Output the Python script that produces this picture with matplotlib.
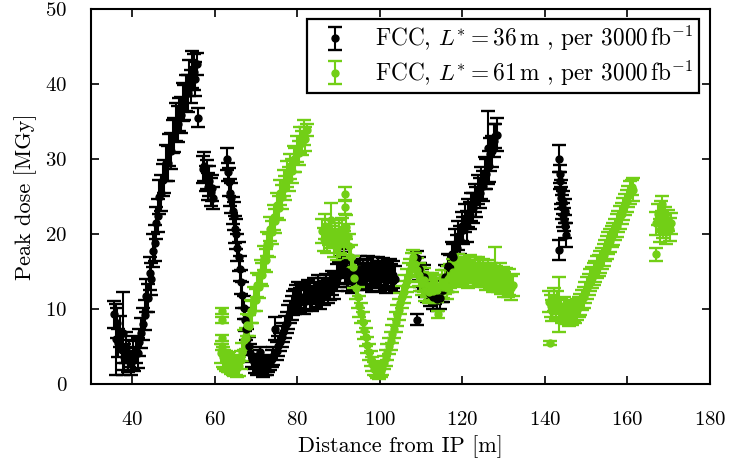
import matplotlib
matplotlib.use("Agg")
import matplotlib.pyplot as plt

plt.rcParams['font.family'] = 'serif'
plt.rcParams['font.serif'] = ['cmr10']
plt.rcParams['mathtext.fontset'] = 'cm'
plt.rcParams['axes.formatter.use_mathtext'] = True

# FCC, L* = 36 m
black_x = [35.6, 36.0, 36.3, 36.6, 37.0, 37.4, 37.8, 38.1, 38.5, 38.9, 39.3, 39.7, 40.1, 40.5, 40.9, 41.3, 41.7, 42.1, 42.5,
           43.0, 43.4, 43.8, 44.2, 44.6, 45.0, 45.4, 45.8, 46.2, 46.6, 47.0, 47.4, 47.8, 48.2, 48.6, 49.0, 49.4, 49.8,
           50.2, 50.6, 51.0, 51.4, 51.8, 52.2, 52.6, 53.0, 53.4, 53.8, 54.2, 54.6, 55.0, 55.3, 55.6,
           56.0, 57.2, 57.5, 57.8, 58.1, 58.4, 58.7, 59.0, 59.3, 59.6,
           63.0, 63.1, 63.4, 63.7, 64.0, 64.3, 64.6, 64.9, 65.2, 65.5, 65.8, 66.1, 66.4, 66.7, 67.0, 67.3, 67.6, 67.9,
           68.2, 68.6, 69.0, 69.4, 69.8, 70.2, 70.6, 71.0, 71.4, 71.8, 72.2, 72.6, 73.0, 73.4, 73.8, 74.2, 74.6,
           75.0, 75.4, 75.8, 76.2, 76.6, 77.0, 77.4, 77.8, 78.2, 78.6, 79.0, 79.4, 79.8, 80.2, 80.6, 81.0, 81.5,
           82.0, 82.5, 83.0, 83.5, 84.0, 84.5, 85.0, 85.5, 86.0, 86.5, 87.0, 87.5, 88.0, 88.5, 89.0, 89.5,
           90.0, 90.4, 90.8, 91.2, 91.6, 92.0, 92.4, 92.8, 93.2, 93.6, 94.0, 94.4, 94.8, 95.2, 95.6, 96.0, 96.4, 96.8,
           97.2, 97.6, 98.0, 98.4, 98.8, 99.2, 99.6, 100.0, 100.4, 100.8, 101.2, 101.6, 102.0, 102.4, 102.8, 103.2, 103.6,
           108.9, 108.9, 109.4, 109.8, 110.2, 110.6, 111.0, 111.4, 111.8, 112.2, 112.6, 113.0, 113.4, 113.8,
           114.6, 115.0, 115.4, 115.8, 116.2, 116.6, 117.0, 117.4, 117.8, 118.2, 118.6, 119.0, 119.4, 119.8, 120.2,
           120.6, 121.0, 121.4, 121.8, 122.2, 122.6, 123.0, 123.4, 123.8, 124.2, 124.6, 125.0, 125.4, 125.8, 126.2,
           126.4, 126.8, 127.2, 127.6, 128.0, 128.4,
           143.5, 143.6, 143.7, 143.5, 143.9, 144.0, 144.2, 144.3, 144.5, 144.6, 144.8, 144.9, 145.0]
black_y = [9.3, 6.0, 8.2, 5.5, 7.0, 4.6, 6.8, 3.6, 4.9, 3.2, 4.1, 2.8, 3.8, 3.4, 4.6, 4.2, 5.6, 6.8, 8.0,
           9.2, 11.8, 11.5, 14.8, 14.0, 17.8, 18.8, 21.5, 22.4, 24.9, 25.4, 27.2, 27.6, 29.5, 29.4, 31.2, 31.0, 33.0,
           33.2, 34.9, 34.6, 35.9, 35.8, 37.6, 37.5, 38.8, 38.7, 40.8, 39.6, 41.9, 41.6, 40.6, 42.6,
           35.5, 28.6, 29.0, 27.4, 27.9, 26.3, 27.0, 25.6, 26.1, 24.8,
           30.0, 28.3, 26.9, 25.5, 24.8, 23.1, 22.4, 20.6, 20.0, 18.2, 17.0, 15.4, 13.6, 11.9, 10.2, 8.6, 7.3, 6.0,
           5.1, 4.2, 3.4, 3.0, 2.5, 2.2, 2.8, 4.3, 2.4, 1.9, 2.3, 2.1, 2.7, 2.9, 3.4, 3.8, 7.4,
           4.4, 5.1, 5.6, 6.3, 6.9, 7.6, 8.2, 9.0, 9.6, 10.1, 10.8, 11.0, 11.6, 11.9, 11.2, 11.6, 10.9,
           11.4, 12.3, 11.8, 11.3, 12.5, 11.9, 12.8, 11.6, 12.4, 12.1, 13.0, 12.4, 12.9, 13.5, 13.1, 14.2,
           14.6, 15.3, 15.9, 16.2, 15.1, 14.6, 14.1, 14.9, 13.8, 14.5, 15.0, 14.2, 14.8, 15.3, 14.4, 15.0, 14.3, 14.9,
           15.4, 14.6, 14.0, 15.1, 14.5, 14.8, 15.3, 14.2, 14.7, 15.2, 14.4, 13.9, 14.8, 15.1, 14.3, 14.6, 14.0,
           16.8, 8.6, 15.4, 14.6, 13.9, 14.3, 13.1, 12.6, 13.2, 12.0, 12.5, 11.6, 12.2, 11.3,
           11.5, 12.6, 12.5, 14.3, 14.0, 15.8, 15.5, 17.3, 16.9, 18.7, 18.1, 19.8, 19.2, 21.0, 20.5,
           22.1, 21.0, 22.8, 22.5, 23.6, 23.5, 24.8, 24.2, 25.9, 25.4, 26.8, 26.4, 28.1, 28.0, 31.5,
           29.0, 30.6, 31.0, 32.4, 33.0, 33.2,
           30.0, 28.0, 27.1, 17.9, 25.6, 24.8, 23.6, 24.2, 22.5, 21.9, 23.0, 21.0, 19.9]
black_err = [1.8, 4.7, 2.0, 1.9, 2.1, 1.8, 5.5, 1.7, 2.0, 1.6, 1.8, 1.5, 1.9, 1.6, 1.8, 2.0, 1.8, 2.0, 2.1,
             2.0, 2.2, 1.9, 2.2, 2.1, 2.2, 2.4, 2.1, 2.2, 2.3, 2.4, 2.1, 2.2, 2.4, 2.3, 2.1, 2.4, 2.2,
             2.3, 2.5, 2.4, 2.2, 2.4, 2.5, 2.3, 2.4, 2.5, 2.4, 2.2, 2.5, 2.4, 2.3, 1.5,
             1.2, 1.8, 1.9, 1.7, 1.9, 1.8, 2.0, 1.9, 1.7, 1.5,
             1.5, 1.2, 1.9, 1.8, 2.0, 1.8, 1.9, 1.8, 2.0, 1.8, 1.9, 1.7, 1.6, 1.7, 1.5, 1.5, 1.4, 1.4,
             1.2, 1.2, 1.1, 1.0, 1.0, 0.9, 1.0, 0.6, 1.0, 0.9, 1.0, 0.9, 1.0, 1.0, 1.1, 1.2, 1.5,
             1.2, 1.3, 1.2, 1.4, 1.3, 1.5, 1.4, 1.6, 1.5, 1.6, 1.6, 1.7, 1.6, 1.7, 1.6, 1.7, 1.6,
             1.7, 1.6, 1.8, 1.6, 1.7, 1.6, 1.7, 1.6, 1.7, 1.6, 1.7, 1.6, 1.7, 1.6, 1.7, 1.8,
             1.7, 1.8, 1.7, 1.8, 1.7, 1.6, 1.7, 1.6, 1.7, 1.8, 1.7, 1.6, 1.7, 1.8, 1.7, 1.6, 1.7, 1.8,
             1.7, 1.6, 1.7, 1.8, 1.7, 1.6, 1.7, 1.8, 1.7, 1.6, 1.7, 1.8, 1.7, 1.6, 1.7, 1.8, 1.7,
             1.0, 0.7, 1.5, 1.6, 1.5, 1.6, 1.5, 1.6, 1.5, 1.6, 1.5, 1.6, 1.5, 1.6,
             1.5, 1.6, 1.5, 1.6, 1.7, 1.6, 1.7, 1.6, 1.8, 1.9, 1.8, 1.9, 1.8, 1.9, 1.8,
             1.9, 2.0, 1.9, 1.8, 1.9, 2.0, 1.9, 2.0, 1.9, 2.0, 2.1, 2.0, 2.1, 2.0, 4.8,
             2.1, 2.2, 2.1, 2.2, 1.6, 2.2,
             1.8, 1.2, 1.1, 1.3, 1.6, 1.5, 1.6, 1.5, 1.6, 1.5, 1.6, 1.5, 1.6]

# FCC, L* = 61 m
green_x = [61.7, 61.7, 61.7, 61.7,
           61.5, 61.9, 62.3, 62.7, 63.1, 63.5, 63.9, 64.3, 64.7, 65.1, 65.5, 65.9, 66.3,
           66.7, 67.1, 67.5, 67.9, 68.3, 68.7, 69.1, 69.5, 69.9, 70.3, 70.7, 71.1, 71.5, 71.9, 72.3, 72.7, 73.1, 73.5,
           73.9, 74.3, 74.7, 75.1, 75.5, 75.9, 76.3, 76.7, 77.1, 77.5, 77.9, 78.3, 78.7, 79.1, 79.5, 79.9, 80.3, 80.7,
           81.1, 81.5, 81.9, 82.3,
           86.0, 86.4, 86.8, 87.2, 87.6, 88.1, 88.4, 88.8, 89.2, 89.6, 90.0, 90.4, 90.8, 91.2, 91.5, 91.5, 91.8, 92.2,
           92.6, 93.0, 93.4, 93.8, 94.2, 94.6, 95.0, 95.4, 95.8, 96.2, 96.6, 97.0, 97.4, 97.8, 98.2, 98.6, 99.0, 99.4,
           99.8, 100.2, 100.6, 101.0, 101.4, 101.8, 102.2, 102.6, 103.0, 103.4, 103.8, 104.2, 104.6, 105.0, 105.4,
           105.8, 106.2, 106.6, 107.0, 107.4, 107.8, 108.1,
           108.6, 109.0, 109.4, 109.8, 110.2, 110.6, 111.0, 111.4, 111.8, 112.2, 112.6, 113.0, 113.4, 113.8, 114.2,
           114.6, 115.0,
           115.4, 115.8, 116.2, 116.6, 117.0, 117.4, 117.8, 118.2, 118.6, 119.0, 119.4, 119.8, 120.2, 120.6, 121.0,
           121.4, 121.8, 122.2, 122.6, 123.0, 123.4, 123.8, 124.2, 124.6, 125.0, 125.4, 125.8, 126.2, 126.6, 127.0,
           127.4, 127.8, 128.2, 128.6, 129.0, 129.4, 129.8, 130.2, 130.6, 131.0, 131.4, 131.8, 132.2,
           141.2, 141.0, 141.4, 141.8, 142.2, 142.6, 143.0, 143.4, 143.8, 144.2, 144.6, 145.0, 145.4, 145.8, 146.2,
           146.6, 147.0, 147.4, 147.8, 148.2, 148.6, 149.0, 149.4, 149.8, 150.2, 150.6, 151.0, 151.4, 151.8, 152.2,
           152.6, 153.0, 153.4, 153.8, 154.2, 154.6, 155.0, 155.4, 155.8, 156.2, 156.6, 157.0, 157.4, 157.8, 158.2,
           158.6, 159.0, 159.4, 159.8, 160.2, 160.6, 161.0, 161.4,
           167.0, 167.0, 167.4, 167.8, 168.2, 168.3, 168.6, 169.0, 169.4, 169.8, 170.2, 170.6]
green_y = [9.7, 8.5, 6.2, 5.0,
           4.1, 3.6, 3.3, 3.1, 2.8, 3.0, 2.6, 2.5, 2.3, 2.6, 2.2, 2.4, 3.2,
           4.3, 5.9, 6.1, 7.9, 7.8, 9.7, 9.6, 11.4, 11.2, 13.2, 13.0, 15.0, 14.6, 16.8, 16.5, 18.7, 18.5, 20.7,
           20.2, 22.2, 21.7, 23.8, 23.4, 25.5, 24.9, 26.8, 26.1, 28.0, 27.3, 29.0, 28.4, 30.0, 29.8, 31.3, 30.8, 32.5,
           32.1, 33.5, 32.6, 33.8,
           20.4, 19.3, 21.0, 19.0, 20.2, 21.8, 19.6, 18.6, 19.9, 18.2, 20.4, 19.1, 20.6, 18.8, 25.3, 23.6, 20.9, 19.8,
           18.4, 17.0, 15.6, 14.2, 12.8, 11.6, 10.4, 9.5, 8.3, 7.2, 6.3, 5.2, 4.3, 3.4, 2.7, 2.1, 1.9, 1.6,
           1.5, 1.8, 2.2, 2.9, 3.5, 4.3, 5.1, 5.8, 6.7, 7.4, 8.3, 9.2, 9.9, 10.8, 11.6,
           12.3, 13.1, 13.8, 14.6, 15.2, 15.9, 16.9,
           16.0, 15.2, 14.6, 14.0, 13.4, 13.9, 12.6, 13.2, 12.3, 12.8, 13.3, 12.4, 13.0, 12.6, 9.3,
           13.1, 13.6,
           13.0, 13.6, 12.8, 14.0, 14.4, 13.8, 15.0, 14.7, 15.1, 15.6, 14.8, 15.3, 14.6, 15.4, 15.0,
           14.5, 15.6, 15.1, 14.8, 15.4, 14.6, 15.2, 14.9, 14.4, 15.0, 14.6, 14.1, 14.9, 14.3, 14.7,
           14.0, 15.5, 14.2, 13.8, 14.4, 13.6, 14.1, 13.3, 13.9, 13.1, 13.6, 12.8, 13.2,
           5.5, 11.0, 10.4, 9.8, 11.3, 10.1, 10.9, 10.6, 9.9, 9.4, 10.2, 9.3, 9.8, 9.1, 9.6,
           9.2, 9.7, 9.4, 9.9, 10.3, 10.6, 11.2, 11.6, 12.2, 12.8, 13.3, 13.9, 14.2, 14.7, 15.0,
           15.6, 15.8, 16.3, 16.8, 17.2, 17.8, 18.2, 18.8, 19.1, 19.7, 20.0, 20.6, 21.1, 21.6, 22.2,
           22.7, 23.3, 23.9, 24.4, 25.0, 25.5, 26.2, 25.9,
           17.3, 21.4, 22.6, 20.5, 23.0, 24.0, 21.0, 22.2, 20.2, 21.8, 20.6, 21.4]
green_err = [0.4, 0.4, 0.4, 0.4,
             1.2, 1.3, 1.2, 1.3, 1.2, 1.3, 1.2, 1.3, 1.2, 1.3, 1.2, 1.3, 1.2,
             1.2, 1.3, 1.4, 1.5, 1.4, 1.5, 1.5, 1.6, 1.5, 1.6, 1.5, 1.6, 1.5, 1.6, 1.5, 1.6, 1.5, 1.6,
             1.5, 1.7, 1.6, 1.7, 1.6, 1.7, 1.6, 1.7, 1.6, 1.7, 1.6, 1.7, 1.6, 1.7, 1.6, 1.7, 1.6, 1.7,
             1.6, 1.7, 1.6, 0.8,
             1.6, 1.5, 1.6, 1.5, 1.6, 2.3, 1.5, 1.6, 1.5, 1.6, 1.5, 1.6, 1.5, 1.6, 0.9, 0.9, 1.6, 1.5,
             1.6, 1.5, 1.5, 1.4, 1.5, 1.4, 1.4, 1.3, 1.3, 1.2, 1.2, 1.1, 1.1, 1.0, 0.9, 0.9, 0.8, 0.8,
             0.8, 0.8, 0.9, 0.9, 1.0, 1.0, 1.1, 1.2, 1.2, 1.3, 1.3, 1.4, 1.4, 1.4, 1.5,
             1.5, 1.5, 1.5, 1.6, 1.5, 1.6, 1.0,
             1.5, 1.6, 1.5, 1.6, 1.5, 1.6, 1.5, 1.6, 1.5, 1.6, 1.5, 1.6, 1.5, 1.6, 0.5,
             1.5, 1.6,
             1.5, 1.6, 1.5, 1.7, 1.6, 1.5, 1.7, 1.6, 1.5, 1.7, 1.6, 1.5, 1.7, 1.6, 1.5,
             1.7, 1.6, 1.5, 1.7, 1.6, 1.5, 1.7, 1.6, 1.5, 1.7, 1.6, 1.5, 1.7, 1.6, 1.5,
             1.7, 2.8, 1.6, 1.5, 1.7, 1.6, 1.5, 1.7, 1.6, 1.5, 1.7, 1.6, 1.5,
             0.3, 1.4, 1.5, 1.4, 1.5, 1.4, 1.5, 3.7, 1.4, 1.3, 1.4, 1.3, 1.4, 1.3, 1.4,
             1.3, 1.4, 1.3, 1.4, 1.3, 1.4, 1.3, 1.4, 1.4, 1.5, 1.4, 1.5, 1.4, 1.5, 1.4,
             1.5, 1.4, 1.5, 1.4, 1.5, 1.4, 1.5, 1.4, 1.5, 1.4, 1.5, 1.4, 1.5, 1.4, 1.5,
             1.4, 1.5, 1.4, 1.5, 1.4, 1.5, 1.0, 1.5,
             0.9, 1.5, 1.4, 1.5, 1.4, 1.0, 1.5, 1.4, 1.5, 1.4, 1.5, 1.4]

assert len(black_x) == len(black_y) == len(black_err), (len(black_x), len(black_y), len(black_err))
assert len(green_x) == len(green_y) == len(green_err), (len(green_x), len(green_y), len(green_err))

green = '#72cf16'

fig = plt.figure(figsize=(7.29, 4.66), dpi=100)
ax = fig.add_axes([0.1248, 0.1753, 0.8491, 0.8064])

ax.errorbar(black_x, black_y, yerr=black_err, fmt='o', ms=5, color='black',
            capsize=5, elinewidth=1.5, capthick=1.7,
            label=r'FCC, $L^{*} = 36\,\mathrm{m}$ , per $3000\,\mathrm{fb}^{-1}$')
ax.errorbar(green_x, green_y, yerr=green_err, fmt='o', ms=5, color=green,
            capsize=5, elinewidth=1.5, capthick=1.7,
            label=r'FCC, $L^{*} = 61\,\mathrm{m}$ , per $3000\,\mathrm{fb}^{-1}$')

ax.set_xlim(30, 180)
ax.set_ylim(0, 50)
ax.set_xticks([40, 60, 80, 100, 120, 140, 160, 180])
ax.set_yticks([0, 10, 20, 30, 40, 50])
ax.tick_params(direction='in', length=6, width=1.2, top=True, right=True, labelsize=15)
ax.tick_params(axis='x', pad=19)
ax.tick_params(axis='y', pad=17)
for s in ax.spines.values():
    s.set_linewidth(1.5)

ax.set_xlabel('Distance from IP [m]', fontsize=16, labelpad=5)
ax.set_ylabel('Peak dose [MGy]', fontsize=16, labelpad=6)

leg = ax.legend(loc='upper right', bbox_to_anchor=(1 - 11/619, 1 - 10/376), borderaxespad=0,
                fancybox=False, edgecolor='black', framealpha=1, fontsize=16.8,
                handlelength=1.9, handletextpad=0.8, labelspacing=0.2, borderpad=0.22)
leg.get_frame().set_linewidth(1.6)

fig.savefig('out.png', dpi=100)
